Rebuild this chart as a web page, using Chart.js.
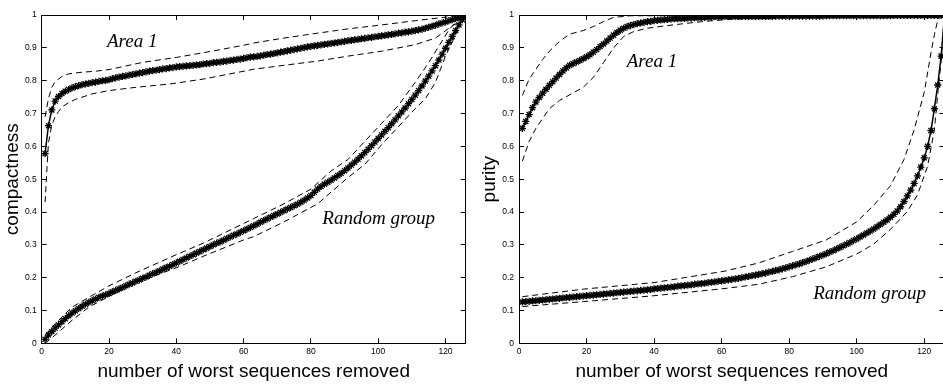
<!DOCTYPE html>
<html>
<head>
<meta charset="utf-8">
<script src="https://cdn.jsdelivr.net/npm/chart.js@4.4.1/dist/chart.umd.min.js"></script>
<style>
  body { margin: 0; background: #fff; }
  #figure { position: relative; width: 943px; height: 386px; overflow: hidden; background: #fff; }
  #figure canvas { position: absolute; top: 0; }
</style>
</head>
<body>
<div id="figure">
  <canvas id="compactness" width="471" height="386" style="left:0"></canvas>
  <canvas id="purity" width="480" height="386" style="left:471px"></canvas>
</div>
<script>
// x runs 1..126 (number of worst sequences removed); mean curves have one value per step

const compArea1Mean = [
  .578, .663, .711, .738, .752, .761, .768, .773, .778, .782,
  .785, .788, .790, .792, .794, .796, .798, .800, .801, .803,
  .806, .809, .811, .813, .815, .817, .819, .821, .823, .825,
  .827, .829, .831, .832, .834, .836, .837, .839, .840, .842,
  .843, .844, .845, .846, .847, .848, .849, .851, .852, .853,
  .855, .856, .857, .859, .860, .862, .863, .865, .866, .868,
  .870, .872, .873, .874, .876, .878, .880, .881, .883, .885,
  .887, .889, .891, .893, .895, .897, .899, .901, .903, .905,
  .906, .908, .909, .911, .912, .914, .915, .917, .918, .920,
  .922, .923, .925, .926, .928, .929, .931, .932, .934, .935,
  .937, .938, .940, .941, .943, .945, .946, .948, .949, .951,
  .953, .955, .957, .960, .963, .966, .969, .973, .976, .979,
  .983, .986, .990, .993, .997, 1.0
];

const compRandomMean = [
  .012, .025, .036, .046, .056, .066, .075, .084, .092, .099,
  .106, .113, .119, .125, .130, .135, .140, .144, .148, .152,
  .157, .161, .166, .170, .175, .180, .184, .189, .193, .198,
  .202, .207, .212, .216, .221, .226, .231, .235, .240, .245,
  .250, .255, .260, .265, .270, .275, .280, .285, .290, .295,
  .300, .305, .309, .314, .319, .324, .329, .333, .338, .343,
  .348, .353, .358, .363, .369, .374, .379, .384, .389, .394,
  .399, .404, .409, .414, .419, .424, .430, .436, .443, .450,
  .460, .470, .478, .485, .491, .497, .504, .511, .518, .526,
  .534, .543, .552, .561, .571, .581, .591, .602, .613, .624,
  .635, .646, .657, .669, .681, .693, .705, .717, .730, .743,
  .756, .770, .784, .799, .814, .830, .846, .863, .881, .899,
  .917, .935, .953, .970, .986, 1.0
];

const purArea1Mean = [
  .655, .676, .697, .718, .735, .749, .762, .774, .786, .797,
  .808, .819, .830, .839, .847, .852, .857, .862, .867, .873,
  .879, .887, .895, .904, .912, .921, .930, .939, .947, .954,
  .960, .965, .968, .971, .974, .976, .978, .980, .981, .983,
  .984, .985, .986, .987, .988, .989, .989, .990, .990, .991,
  .991, .992, .992, .993, .993, .994, .994, .995, .995, .995,
  .996, .996, .996, .996, .996, .996, .996, .996, .996, .996,
  .996, .996, .996, .996, .996, .997, .997, .997, .997, .997,
  .997, .997, .997, .997, .997, .997, .997, .997, .997, .997,
  .998, .998, .998, .998, .998, .998, .998, .998, .998, .998,
  .998, .998, .998, .998, .998, .998, .998, .998, .998, .998,
  .999, .999, .999, .999, .999, .999, .999, .999, .999, .999,
  .999, .999, .999, .999, .999, 1.0
];

const purRandomMean = [
  .126, .127, .128, .129, .130, .131, .132, .133, .134, .135,
  .136, .137, .138, .139, .140, .141, .142, .143, .144, .145,
  .146, .147, .148, .149, .150, .151, .152, .153, .154, .155,
  .156, .157, .158, .159, .160, .161, .162, .163, .164, .166,
  .167, .168, .169, .170, .171, .172, .174, .175, .176, .177,
  .178, .180, .181, .182, .183, .185, .186, .187, .189, .190,
  .192, .193, .195, .196, .198, .200, .202, .204, .206, .208,
  .210, .212, .214, .217, .219, .222, .224, .227, .230, .233,
  .236, .239, .242, .246, .249, .253, .257, .261, .265, .269,
  .273, .278, .282, .287, .292, .297, .302, .307, .313, .318,
  .324, .330, .336, .342, .348, .355, .362, .369, .376, .384,
  .393, .403, .416, .432, .449, .467, .487, .510, .537, .565,
  .600, .648, .715, .787, .875, 1.0
];

// spread bands (dashed), given at sampled steps
const compArea1UpX = [1, 2, 3, 4, 6, 8, 12, 16, 20, 25, 30, 40, 50, 60, 63, 72, 82, 91, 101, 111, 121, 126];
const compArea1UpY = [.69, .745, .78, .797, .813, .821, .826, .829, .834, .845, .856, .871, .889, .908, .915, .93, .945, .958, .97, .983, .995, 1.0];
const compArea1LoX = [1, 2, 3, 4, 5, 6, 8, 10, 12, 15, 20, 28, 38, 48, 58, 63, 72, 82, 91, 101, 111, 117, 121, 124, 126];
const compArea1LoY = [.43, .61, .665, .69, .706, .72, .733, .743, .75, .76, .77, .78, .79, .805, .825, .835, .847, .86, .875, .89, .91, .93, .96, .98, 1.0];

const compRandomUpX = [1, 4, 9, 14, 20, 28, 40, 48, 60, 63, 72, 80, 86, 91, 96, 101, 106, 111, 115, 118, 121, 124, 126];
const compRandomUpY = [.025, .06, .11, .14, .175, .215, .27, .305, .365, .38, .425, .47, .525, .56, .615, .67, .725, .795, .855, .905, .955, .99, 1.0];
const compRandomLoX = [1, 4, 9, 14, 20, 28, 40, 48, 60, 63, 72, 82, 91, 96, 101, 106, 111, 114, 117, 120, 123, 125, 126];
const compRandomLoY = [0, .025, .07, .11, .143, .185, .23, .265, .315, .325, .37, .425, .505, .545, .605, .66, .715, .745, .795, .875, .94, .99, 1.0];

const purArea1UpX = [1, 3, 5, 7, 9, 12, 15, 19, 22, 25, 28, 33, 126];
const purArea1UpY = [.755, .805, .835, .865, .89, .92, .942, .953, .965, .98, .993, .998, .999];
const purArea1LoX = [1, 3, 5, 7, 9, 12, 15, 19, 22, 25, 28, 31, 34, 38, 43, 48, 54, 62, 72, 82, 100, 126];
const purArea1LoY = [.555, .615, .655, .685, .715, .74, .757, .78, .81, .855, .9, .935, .95, .96, .967, .973, .98, .987, .991, .994, .996, 1.0];

const purRandomUpX = [1, 19, 40, 61, 71, 81, 91, 100, 105, 110, 114, 117, 120, 122, 123, 124, 125, 126];
const purRandomUpY = [.142, .165, .185, .22, .245, .28, .315, .37, .42, .48, .56, .65, .765, .885, .94, .985, 1.0, 1.0];
const purRandomLoX = [1, 19, 40, 61, 71, 81, 91, 100, 105, 110, 115, 118, 121, 123, 124, 125, 126];
const purRandomLoY = [.112, .127, .145, .167, .18, .203, .233, .272, .302, .347, .402, .452, .54, .65, .76, .86, 1.0];

// in-plot labels, placed in data units
const compNotes = [
  { text: 'Area 1', x: 19.4, y: 0.904 },
  { text: 'Random group', x: 83.4, y: 0.365 }
];
const purNotes = [
  { text: 'Area 1', x: 31.9, y: 0.842 },
  { text: 'Random group', x: 87.1, y: 0.136 }
];

const SANS = '"Liberation Sans", Arial, Helvetica, sans-serif';
const tickFont = { family: SANS, size: 8.5 };
const titleFont = { family: SANS, size: 19, lineHeight: 1.2 };

// draws free text at data coordinates
const notesPlugin = {
  id: 'notes',
  afterDatasetsDraw(chart, args, opts) {
    const { ctx, scales } = chart;
    ctx.save();
    ctx.font = 'italic 19px "Liberation Serif", "Times New Roman", serif';
    ctx.fillStyle = '#000';
    ctx.textAlign = 'left';
    ctx.textBaseline = 'alphabetic';
    (opts.items || []).forEach(n => {
      ctx.fillText(n.text, scales.x.getPixelForValue(n.x), scales.y.getPixelForValue(n.y));
    });
    ctx.restore();
  }
};

function meanLine(values) {
  return {
    data: values.map((v, i) => ({ x: i + 1, y: v })),
    borderColor: '#000',
    borderWidth: 1.5,
    pointStyle: 'star',
    pointRadius: 3.6,
    pointBorderColor: '#000',
    pointBorderWidth: 1.3,
    tension: 0
  };
}

function bandLine(xs, ys) {
  return {
    data: xs.map((x, i) => ({ x: x, y: ys[i] })),
    borderColor: '#000',
    borderWidth: 1,
    borderDash: [6, 4],
    pointRadius: 0,
    tension: 0
  };
}

// inward MATLAB-style ticks on all four sides
const frameGrid = { drawOnChartArea: false, tickLength: -5, color: '#000', lineWidth: 1 };
const frameBorder = { color: '#000', width: 1 };

// 0, 0.1 ... 0.9, 1 without trailing zeros
const plainLabel = v => String(Number(v.toFixed(2)));

function makePanel(id, yTitle, yTitlePad, datasets, notes, box) {
  const xTicks = { stepSize: 20, includeBounds: false, maxRotation: 0 };
  const yTicks = { stepSize: 0.1, includeBounds: false };
  return new Chart(document.getElementById(id), {
    type: 'line',
    data: { datasets: datasets },
    plugins: [notesPlugin],
    options: {
      responsive: false,
      animation: false,
      events: [],
      layout: { padding: 0 },
      scales: {
        x: {
          type: 'linear', position: 'bottom', min: 0, max: 126,
          ticks: Object.assign({ color: '#000', font: tickFont, padding: 8.5 }, xTicks),
          grid: frameGrid, border: frameBorder,
          title: { display: true, text: 'number of worst sequences removed', color: '#000', font: titleFont, padding: { top: 0, bottom: 2.6 } },
          afterFit: s => { s.height = box.bottom; }
        },
        x2: {
          type: 'linear', position: 'top', min: 0, max: 126,
          ticks: Object.assign({ display: false }, xTicks),
          grid: frameGrid, border: frameBorder,
          afterFit: s => { s.height = box.top; }
        },
        y: {
          type: 'linear', position: 'left', min: 0, max: 1,
          ticks: Object.assign({ color: '#000', font: tickFont, padding: 10, callback: plainLabel }, yTicks),
          grid: frameGrid, border: frameBorder,
          title: { display: true, text: yTitle, color: '#000', font: titleFont, padding: { top: yTitlePad, bottom: 0 } },
          afterFit: s => { s.width = box.left; }
        },
        y2: {
          type: 'linear', position: 'right', min: 0, max: 1,
          ticks: Object.assign({ display: false }, yTicks),
          grid: frameGrid, border: frameBorder,
          afterFit: s => { s.width = box.right; }
        }
      },
      plugins: {
        legend: { display: false },
        tooltip: { enabled: false },
        notes: { items: notes }
      }
    }
  });
}

makePanel('compactness', 'compactness', 1.6, [
  bandLine(compArea1UpX, compArea1UpY),
  bandLine(compArea1LoX, compArea1LoY),
  bandLine(compRandomUpX, compRandomUpY),
  bandLine(compRandomLoX, compRandomLoY),
  meanLine(compArea1Mean),
  meanLine(compRandomMean)
], compNotes, { left: 41.7, right: 2.7, top: 9, bottom: 42.7 });

makePanel('purity', 'purity', 7.6, [
  bandLine(purArea1UpX, purArea1UpY),
  bandLine(purArea1LoX, purArea1LoY),
  bandLine(purRandomUpX, purRandomUpY),
  bandLine(purRandomLoX, purRandomLoY),
  meanLine(purArea1Mean),
  meanLine(purRandomMean)
], purNotes, { left: 48, right: 6.5, top: 9, bottom: 42.7 });
</script>
</body>
</html>
